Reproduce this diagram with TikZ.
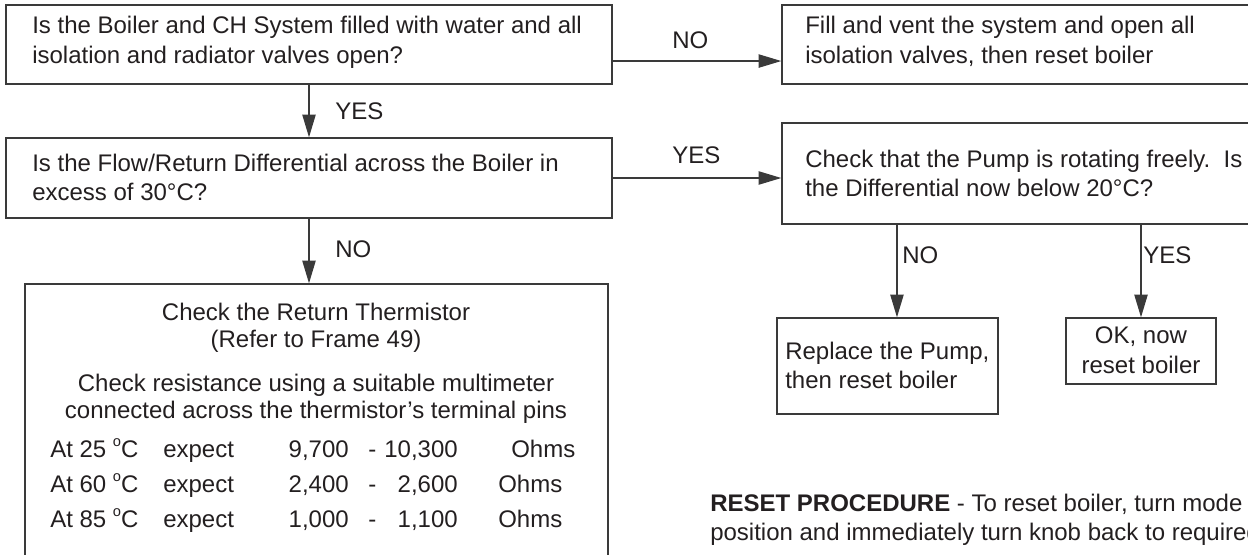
\documentclass[tikz,border=0pt]{standalone}
\usepackage{fontspec}
\setmainfont{Liberation Sans}
\usetikzlibrary{arrows.meta,calc}
\definecolor{ink}{HTML}{231F20}
\definecolor{edge}{HTML}{3A3A3A}
\newcommand{\degsup}{\raisebox{0.42em}{\fontsize{11pt}{11pt}\selectfont o}}
\begin{document}
\begin{tikzpicture}[x=0.75pt,y=-0.75pt,
  every node/.style={text=ink,font=\fontsize{18pt}{22pt}\selectfont},
  box/.style={draw=edge,line width=1.1pt,rectangle,inner sep=0pt,fill=none},
  txt/.style={anchor=base west,inner sep=0pt},
  ctxt/.style={anchor=base,inner sep=0pt},
  rtxt/.style={anchor=base east,inner sep=0pt},
  arr/.style={draw=edge,line width=0.9pt,-{Triangle[length=17pt,width=10pt]}}]
\useasboundingbox (0,0) rectangle (1248,554);
\clip (0,0) rectangle (1248,554);
% boxes
\node[box,minimum width=454.5pt,minimum height=59.25pt] (b1) at (309,44.5) {};
\node[box,minimum width=454.5pt,minimum height=60pt] (b2) at (309,178) {};
\node[box,minimum width=437.25pt,minimum height=252pt] (b3) at (316.5,452) {};
\node[box,minimum width=388.5pt,minimum height=59.25pt] (b4) at (1041,44.5) {};
\node[box,minimum width=388.5pt,minimum height=75.75pt] (b5) at (1041,173.5) {};
\node[box,minimum width=165.75pt,minimum height=72pt] (b6) at (887.5,366) {};
\node[box,minimum width=112.5pt,minimum height=49.5pt] (b7) at (1141,351) {};
% texts
\node[txt] (t1a) at (32,33) {Is the Boiler and CH System filled with water and all};
\node[txt] (t1b) at (32,63) {isolation and radiator valves open?};
\node[txt] (t2a) at (32,171) {Is the Flow/Return Differential across the Boiler in};
\node[txt] (t2b) at (32,200) {excess of 30°C?};
\node[txt] (t4a) at (805,33) {Fill and vent the system and open all};
\node[txt] (t4b) at (805,63) {isolation valves, then reset boiler};
\node[txt] (t5a) at (805,167) {Check that the Pump is rotating freely.\ \ Is};
\node[txt] (t5b) at (805,196) {the Differential now below 20°C?};
\node[txt] (t6a) at (785,359) {Replace the Pump,};
\node[txt] (t6b) at (785,388) {then reset boiler};
\node[ctxt] (t7a) at (1141,343) {OK, now};
\node[ctxt] (t7b) at (1141,373) {reset boiler};
\node[ctxt] (t3a) at (316,320) {Check the Return Thermistor};
\node[ctxt] (t3b) at (316,347) {(Refer to Frame 49)};
\node[ctxt] (t3c) at (316,391) {Check resistance using a suitable multimeter};
\node[ctxt] (t3d) at (316,418) {connected across the thermistor’s terminal pins};
% table
\node[txt] (r1a) at (50,457) {At 25 \degsup C};
\node[txt] (r1b) at (163,457) {expect};
\node[rtxt] (r1c) at (349,457) {9,700};
\node[txt] (r1d) at (368,457) {-};
\node[rtxt] (r1e) at (458,457) {10,300};
\node[txt] (r1f) at (511,457) {Ohms};
\node[txt] (r2a) at (50,492) {At 60 \degsup C};
\node[txt] (r2b) at (163,492) {expect};
\node[rtxt] (r2c) at (349,492) {2,400};
\node[txt] (r2d) at (368,492) {-};
\node[rtxt] (r2e) at (458,492) {2,600};
\node[txt] (r2f) at (498,492) {Ohms};
\node[txt] (r3a) at (50,527) {At 85 \degsup C};
\node[txt] (r3b) at (163,527) {expect};
\node[rtxt] (r3c) at (349,527) {1,000};
\node[txt] (r3d) at (368,527) {-};
\node[rtxt] (r3e) at (458,527) {1,100};
\node[txt] (r3f) at (498,527) {Ohms};
% reset procedure
\node[txt] (rp1) at (710,511) {\textbf{RESET PROCEDURE} - To reset boiler, turn mode};
\node[txt] (rp2) at (710,540) {position and immediately turn knob back to required};
% connectors
\draw[arr] (b1.south) -- (b2.north);
\draw[arr] (b2.south) -- (b2.south |- b3.north);
\draw[arr] ([yshift=-12.4pt]b1.east) -- ([yshift=-12.4pt]b4.west);
\draw[arr] (b2.east) -- (b2.east -| b5.west);
\coordinate (c1) at ([xshift=7.1pt]b6.north);
\draw[arr] (b5.south -| c1) -- (c1);
\draw[arr] (b5.south -| b7.north) -- (b7.north);
% labels
\node[txt] (l1) at (335,119) {YES};
\node[txt] (l2) at (335,257) {NO};
\node[txt] (l3) at (672,48) {NO};
\node[txt] (l4) at (672,163) {YES};
\node[txt] (l5) at (902,263) {NO};
\node[txt] (l6) at (1143,263) {YES};
\end{tikzpicture}
\end{document}
